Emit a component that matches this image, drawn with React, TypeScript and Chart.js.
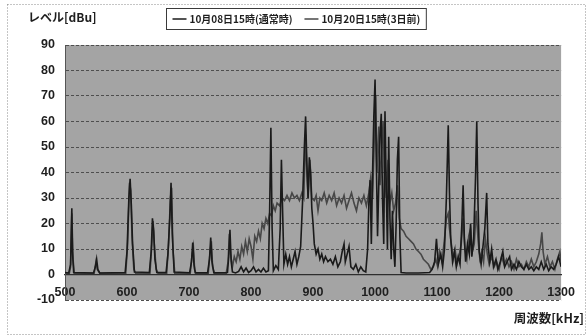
import React, { useEffect, useRef } from "react";
import { Chart, registerables } from "chart.js";

Chart.register(...registerables);

const yTitle = "レベル[dBu]";
const xTitle = "周波数[kHz]";
const seriesNames = ["10月08日15時(通常時)", "10月20日15時(3日前)"];
const xMin = 500;
const xMax = 1300;
const xStep = 100;
const yMin = -10;
const yMax = 90;
const yStep = 10;

// 10月08日15時(通常時)
const s1Freq = [
  500, 506, 509, 511, 512, 514, 546, 549, 551, 553, 556, 597, 600, 603, 605, 607, 609, 612,
  636, 639, 641, 643, 645, 648, 663, 666, 669, 671, 673, 676, 701, 704, 706, 708, 710,
  730, 733, 735, 737, 740, 762, 764, 766, 768, 770, 775, 780, 784, 788, 792, 796, 800,
  804, 808, 812, 816, 820, 824, 828, 830, 832, 834, 836, 840, 844, 847, 849, 851, 853,
  856, 859, 862, 865, 868, 871, 874, 877, 880, 883, 886, 888, 890, 892, 894, 896, 898,
  900, 902, 905, 908, 911, 914, 917, 920, 924, 928, 932, 936, 940, 944, 947, 950, 952,
  955, 958, 961, 965, 969, 973, 977, 981, 985, 988, 990, 992, 994, 996, 998, 1000, 1002,
  1004, 1006, 1008, 1010, 1012, 1014, 1016, 1018, 1020, 1022, 1024, 1026, 1028, 1030,
  1032, 1034, 1036, 1038, 1040, 1042, 1050, 1060, 1070, 1080, 1088, 1092, 1096, 1099,
  1102, 1106, 1109, 1112, 1115, 1118, 1120, 1122, 1125, 1128, 1131, 1134, 1137, 1140,
  1142, 1144, 1146, 1149, 1152, 1154, 1156, 1159, 1162, 1164, 1166, 1168, 1171, 1174,
  1177, 1180, 1182, 1185, 1188, 1191, 1195, 1198, 1202, 1206, 1209, 1213, 1217, 1220,
  1224, 1228, 1232, 1236, 1240, 1244, 1248, 1252, 1256, 1260, 1264, 1268, 1272, 1276,
  1280, 1284, 1288, 1292, 1296, 1300,
];
const s1Level = [
  0.8, 0.6, 4, 26, 9, 0.8, 0.6, 3, 6, 2, 0.6, 0.8, 9, 30, 37.5, 27, 12, 1,
  0.8, 9, 22, 17, 6, 0.8, 0.8, 8, 22, 36, 16, 1, 0.7, 5, 12.5, 4, 0.7,
  0.7, 6, 14.5, 5, 0.7, 0.8, 7, 17.5, 5, 1, 0.6, 1.2, 3, 1, 2.5, 0.8, 1.5,
  3, 1, 2, 1, 2.5, 1, 1.5, 25, 57.5, 18, 1.5, 3.5, 2, 18, 45, 24, 4,
  8, 4, 7, 3, 6, 9, 4, 7, 11, 28, 50, 62, 44, 30, 46, 40, 26,
  20, 12, 8, 10, 6, 8, 5, 7, 5, 6, 4, 7, 3, 5, 9, 12, 5,
  8, 11, 3, 2, 4, 1, 3, 1.5, 1, 10, 28, 37, 12, 40, 62, 76.5, 45,
  15, 35, 55, 63, 30, 12, 64, 35, 10, 54, 22, 6, 25, 10,
  3, 20, 45, 54, 15, 0.8, 0.6, 0.6, 0.6, 0.7, 0.8, 2, 5, 14,
  4, 8, 3, 10, 30, 58.5, 32, 14, 5, 9, 3, 7, 4, 20,
  35, 14, 5, 12, 8, 20, 7, 14, 38, 60, 28, 9, 4, 11,
  18, 32, 12, 5, 10, 3, 6, 2, 5, 9, 3, 5, 7, 2,
  4, 2, 5, 3, 2, 4, 2, 3, 1.5, 3, 2, 5, 2, 4,
  1.5, 3, 2, 4, 7, 3,
];

// 10月20日15時(3日前)
const s2Freq = [
  500, 507, 509, 511, 513, 515, 547, 550, 552, 556, 598, 601, 604, 606, 608, 611, 614,
  637, 640, 642, 644, 647, 650, 664, 667, 670, 672, 674, 677, 702, 705, 707, 709, 711,
  731, 734, 736, 738, 741, 760, 763, 765, 767, 770, 773, 776, 779, 782, 785, 788, 791,
  794, 797, 800, 803, 806, 809, 812, 815, 818, 821, 824, 827, 830, 833, 836, 839, 842,
  846, 850, 854, 858, 862, 866, 870, 874, 878, 882, 885, 888, 890, 892, 895, 898, 902,
  905, 908, 911, 914, 918, 922, 926, 930, 934, 938, 942, 946, 950, 954, 958, 962, 966,
  970, 974, 978, 982, 986, 990, 993, 996, 999, 1001, 1003, 1006, 1008, 1011, 1013, 1015,
  1018, 1021, 1024, 1027, 1030, 1033, 1036, 1039, 1042, 1046, 1050, 1054, 1058, 1062,
  1066, 1070, 1074, 1078, 1082, 1086, 1090, 1094, 1098, 1101, 1104, 1108, 1112, 1115,
  1118, 1120, 1123, 1126, 1129, 1132, 1136, 1139, 1142, 1145, 1148, 1151, 1154, 1157,
  1160, 1163, 1166, 1169, 1172, 1175, 1178, 1181, 1184, 1188, 1192, 1196, 1200, 1204,
  1208, 1212, 1216, 1220, 1224, 1228, 1232, 1236, 1240, 1244, 1248, 1252, 1256, 1260,
  1264, 1267, 1269, 1271, 1274, 1278, 1282, 1286, 1290, 1294, 1298, 1300,
];
const s2Level = [
  0.5, 0.5, 3, 24, 6, 0.5, 0.5, 5, 2, 0.5, 0.5, 12, 36, 33, 15, 2, 0.5,
  0.5, 12, 21, 12, 2, 0.5, 0.5, 12, 30, 34, 10, 0.5, 0.5, 8, 11, 2, 0.5,
  0.5, 9, 13, 3, 0.5, 0.5, 5, 16, 8, 3, 7, 5, 9, 6, 11, 8, 13,
  9, 14, 11, 6, 15, 13, 17, 14, 20, 18, 22, 20, 24, 23, 27, 25, 28,
  27, 30, 29, 31, 29, 32, 30, 31, 29, 32, 30, 55, 40, 30, 45, 30, 29,
  31, 25, 30, 29, 32, 28, 31, 29, 32, 27, 30, 28, 31, 26, 29, 32, 28,
  25, 30, 28, 31, 27, 32, 38, 30, 55, 70, 40, 58, 35, 50, 60, 42,
  30, 45, 28, 32, 25, 28, 35, 22, 18, 17, 15, 14, 13, 12,
  10, 9, 8, 6, 5, 4, 2, 3, 6, 3, 9, 5, 14, 22,
  24, 18, 12, 6, 10, 4, 8, 12, 22, 10, 6, 15, 18, 9,
  12, 25, 14, 6, 9, 5, 14, 8, 4, 7, 3, 5, 2, 7,
  4, 6, 3, 5, 2, 6, 3, 4, 2, 5, 3, 6, 3, 5,
  8, 12, 16.5, 9, 4, 7, 3, 5, 2, 6, 9, 5,
];

const toPoints = (fs: number[], ls: number[]) => fs.map((f, i) => ({ x: f, y: ls[i] }));

const lineColors = ["#1a1a1a", "#474747"];

const decorPlugin = {
  id: "decor",
  beforeDraw(chart: any) {
    const { ctx, chartArea: a, width, height } = chart;
    ctx.save();
    ctx.fillStyle = "#ffffff";
    ctx.fillRect(0, 0, width, height);
    ctx.strokeStyle = "#8a8a8a";
    ctx.lineWidth = 1;
    ctx.setLineDash([1, 2]);
    ctx.strokeRect(7.5, 4.5, 578, 330);
    ctx.setLineDash([]);
    ctx.fillStyle = "#a4a4a4";
    ctx.fillRect(a.left, a.top, a.right - a.left, a.bottom - a.top);
    ctx.restore();
  },
  afterDraw(chart: any) {
    const { ctx } = chart;
    ctx.save();
    ctx.fillStyle = "#1e1e1e";
    ctx.textBaseline = "middle";
    ctx.font = "bold 12px 'Noto Sans CJK JP'";
    ctx.textAlign = "left";
    ctx.fillText(yTitle, 28, 17);
    ctx.textAlign = "right";
    ctx.font = "bold 12.5px 'Noto Sans CJK JP'";
    ctx.fillText(xTitle, 584, 318);

    // legend
    ctx.font = "bold 10px 'Noto Sans CJK JP'";
    ctx.textAlign = "left";
    const lineLen = 14;
    const gap = 3;
    const itemGap = 12;
    const pad = 6;
    const w1 = ctx.measureText(seriesNames[0]).width;
    const w2 = ctx.measureText(seriesNames[1]).width;
    const total = pad * 2 + (lineLen + gap) * 2 + w1 + w2 + itemGap;
    const cx = 296;
    const bx = Math.round(cx - total / 2) + 0.5;
    const by = 8.5;
    const bh = 21;
    ctx.strokeStyle = "#3a3a3a";
    ctx.lineWidth = 1;
    ctx.strokeRect(bx, by, total, bh);
    const ly = by + bh / 2;
    let x = bx + pad;
    [w1, w2].forEach((w, i) => {
      ctx.strokeStyle = lineColors[i];
      ctx.lineWidth = 1.5;
      ctx.beginPath();
      ctx.moveTo(x, ly);
      ctx.lineTo(x + lineLen, ly);
      ctx.stroke();
      ctx.fillStyle = "#1e1e1e";
      ctx.fillText(seriesNames[i], x + lineLen + gap, ly + 0.5);
      x += lineLen + gap + w + itemGap;
    });
    ctx.restore();
  },
};

export default function App() {
  const ref = useRef<HTMLCanvasElement>(null);
  useEffect(() => {
    document.body.style.margin = "0";
    const canvas = ref.current;
    if (!canvas) return;
    const chart = new Chart(canvas, {
      type: "line",
      data: {
        datasets: [
          {
            label: seriesNames[0],
            data: toPoints(s1Freq, s1Level),
            borderColor: lineColors[0],
            borderWidth: 1.6,
            pointRadius: 0,
            tension: 0,
          },
          {
            label: seriesNames[1],
            data: toPoints(s2Freq, s2Level),
            borderColor: lineColors[1],
            borderWidth: 1.6,
            pointRadius: 0,
            tension: 0,
          },
        ],
      },
      options: {
        animation: false,
        responsive: false,
        layout: { padding: { top: 45, bottom: 35, left: 0, right: 15 } },
        plugins: { legend: { display: false }, title: { display: false }, tooltip: { enabled: false } },
        scales: {
          x: {
            type: "linear",
            min: xMin,
            max: xMax,
            position: { y: 0 } as any,
            grid: { display: false, drawTicks: false },
            border: { display: true, color: "#2e2e2e", width: 1.2 },
            ticks: {
              stepSize: xStep,
              padding: 11,
              color: "#1e1e1e",
              font: { family: "'Liberation Sans', Arial, sans-serif", size: 12.5, weight: "bold" },
              maxRotation: 0,
              autoSkip: false,
              callback: (v: any) => String(v),
            },
          },
          y: {
            type: "linear",
            min: yMin,
            max: yMax,
            afterFit: (scale: any) => {
              scale.width = 65;
            },
            grid: { color: "#4e4e4e", drawTicks: false, lineWidth: 1 },
            border: { display: true, color: "#555555", dash: [3, 2] },
            ticks: {
              stepSize: yStep,
              padding: 10,
              color: "#1e1e1e",
              font: { family: "'Liberation Sans', Arial, sans-serif", size: 12.5, weight: "bold" },
              callback: (v: any) => String(v),
            },
          },
        },
      },
      plugins: [decorPlugin],
    });
    return () => chart.destroy();
  }, []);
  return (
    <div style={{ width: 586, height: 335 }}>
      <canvas ref={ref} width={586} height={335} style={{ display: "block" }} />
    </div>
  );
}
